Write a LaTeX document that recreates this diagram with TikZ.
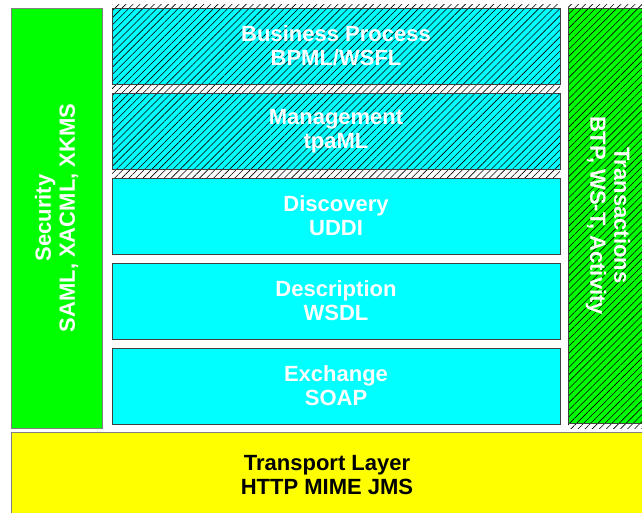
\documentclass[tikz,border=0pt]{standalone}
\usepackage{fontspec}
\setmainfont{Liberation Sans}
\usetikzlibrary{positioning,patterns.meta}
\pgfdeclarelayer{bg}
\pgfsetlayers{bg,main}
\definecolor{layercyan}{RGB}{0,255,255}
\definecolor{sidegreen}{RGB}{0,255,0}
\definecolor{transyellow}{RGB}{255,255,0}

\begin{document}
\begin{tikzpicture}[
layer/.style={rectangle, draw=black!75, line width=0.8pt, fill=layercyan, minimum width=448pt, minimum height=76pt, inner sep=0pt, outer sep=0pt, text=white, font=\fontsize{22}{24}\selectfont\bfseries, align=center},
side/.style={rectangle, draw=gray, line width=0.8pt, fill=#1, inner sep=0pt, outer sep=0pt, text=white, font=\fontsize{22}{24}\selectfont\bfseries, align=center},
hatch/.style={pattern={Lines[angle=45,distance=5pt,line width=0.6pt]}, pattern color=black},
hatched/.style={preaction={fill=#1}, hatch},
]

\useasboundingbox (0,0) rectangle (642pt,-512pt);

%Stack of layers
\node[layer, hatched=layercyan] (bpm) at (336pt,-46pt) {Business Process\\BPML/WSFL};
\node[layer, hatched=layercyan] (mgmt) [below=9pt of bpm] {Management\\tpaML};
\node[layer] (disc) [below=9pt of mgmt] {Discovery\\UDDI};
\node[layer] (desc) [below=9pt of disc] {Description\\WSDL};
\node[layer] (exch) [below=9pt of desc] {Exchange\\SOAP};

%Side columns
\node[side=sidegreen, rotate=90, minimum width=420pt, minimum height=91pt] (sec) at (56.5pt,-218pt) {Security\\SAML, XACML, XKMS};
\node[side=sidegreen, hatched=sidegreen, draw=black!75, rotate=-90, minimum width=415pt, minimum height=80pt] (trans) at (608pt,-215.5pt) {Transactions\\BTP, WS-T, Activity};

%Transport
\node[side=transyellow, text=black, minimum width=632pt, minimum height=86pt] (trp) at (327pt,-475pt) {Transport Layer\\HTTP MIME JMS};

%Hatching that shows between and above the hatched boxes
\begin{pgfonlayer}{bg}
\fill[white] (0,0) rectangle (642pt,-512pt);
\path[hatch] ([yshift=4pt]bpm.north west) rectangle ([yshift=-9pt]mgmt.south east);
\path[hatch] ([yshift=4pt]trans.south west) rectangle ([yshift=-5pt]trans.north east);
\end{pgfonlayer}
\end{tikzpicture}
\end{document}
